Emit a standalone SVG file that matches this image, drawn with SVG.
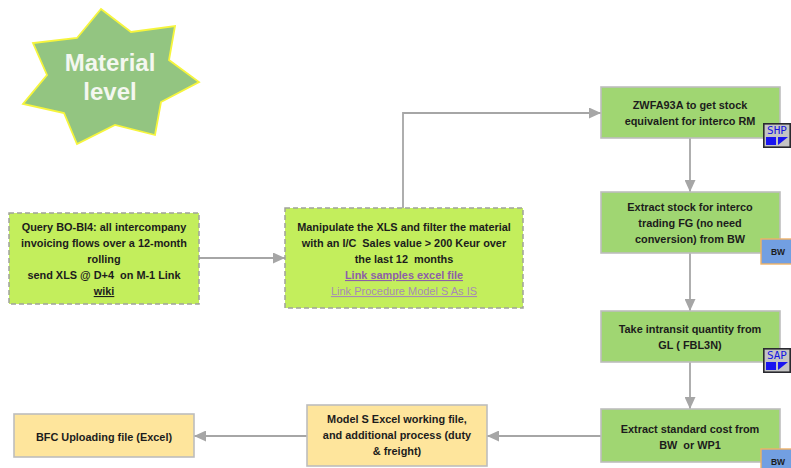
<svg xmlns="http://www.w3.org/2000/svg" width="791" height="468" viewBox="0 0 791 468">
<style>
text{font-family:"Liberation Sans",Arial,sans-serif;font-size:10.9px;font-weight:700;fill:#1c1c1c;text-anchor:middle;white-space:pre}
.dash{fill:#c3ee5c;stroke:#a0a39a;stroke-width:1.5;stroke-dasharray:5 3}
.green{fill:#a0d672;stroke:#bdbdbd;stroke-width:1.6}
.yellow{fill:#fee59c;stroke:#bdbdbd;stroke-width:1.6}
.bw{fill:#729fe2;stroke:#f0b266;stroke-width:1.4}
.bwt{font-size:8.5px}
.sap{fill:#c4c4c4;stroke:#2a2a30;stroke-width:1.6}
.sapt{font-family:"DejaVu Sans Mono","Liberation Mono",monospace;font-size:11px;font-weight:400;fill:#1414e0}
.blue{fill:#1a14f0}
.link{fill:#8d5fa8;text-decoration:underline}
.link2{fill:#a78bb5;font-weight:400;font-size:11px;text-decoration:underline}
.conn{fill:none;stroke:#a6a6a6;stroke-width:1.8}
</style>
<defs>
<marker id="arrow" markerUnits="userSpaceOnUse" markerWidth="12" markerHeight="11" refX="12" refY="5.5" orient="auto"><path d="M0 0L12 5.5L0 11z" fill="#a6a6a6"/></marker>
<symbol id="sapbg" overflow="visible"><rect class="sap" x="0.8" y="0.8" width="26.4" height="23.4"/><rect class="blue" x="3" y="14" width="10" height="8"/><path class="blue" d="M15 14H25L15 22z"/></symbol>
</defs>
<g id="connectors">
<path class="conn" marker-end="url(#arrow)" d="M199 258H285"/>
<path class="conn" marker-end="url(#arrow)" d="M403 208V113H601"/>
<path class="conn" marker-end="url(#arrow)" d="M690 138V192"/>
<path class="conn" marker-end="url(#arrow)" d="M690 253V311"/>
<path class="conn" marker-end="url(#arrow)" d="M690 362V409"/>
<path class="conn" marker-end="url(#arrow)" d="M601 436H487"/>
<path class="conn" marker-end="url(#arrow)" d="M307 436H194"/>
</g>
<g id="star">
<path d="M101 9L131 32L175 26L169 60L199 82L161 102L155 135L115 125L77 144L64 113L23 104L47 75L33 43L77 38z" fill="#93c581" stroke="#f6f53c" stroke-width="1.8"/>
<text x="110" y="71" style="font-size:24px;fill:#f4f7f0">Material</text>
<text x="110" y="100" style="font-size:24px;fill:#f4f7f0">level</text>
</g>
<g id="query">
<rect class="dash" x="9" y="213" width="190" height="91"/>
<text x="104" y="231">Query BO-BI4: all intercompany</text>
<text x="104" y="247">invoicing flows over a 12-month</text>
<text x="104" y="263">rolling</text>
<text x="104" y="279">send XLS @ D+4  on M-1 Link</text>
<text x="104" y="295" text-decoration="underline">wiki</text>
</g>
<g id="manipulate">
<rect class="dash" x="285" y="208" width="238" height="100"/>
<text x="404" y="231">Manipulate the XLS and filter the material</text>
<text x="404" y="247">with an I/C  Sales value &gt; 200 Keur over</text>
<text x="404" y="263">the last 12  months</text>
<text class="link" x="404" y="279">Link samples excel file</text>
<text class="link2" x="404" y="295">Link Procedure Model S As IS</text>
</g>
<g id="zwfa">
<rect class="green" x="601" y="87" width="179" height="51"/>
<text x="690" y="109">ZWFA93A to get stock</text>
<text x="690" y="125">equivalent for interco RM</text>
<use href="#sapbg" x="763" y="123"/>
<text class="sapt" x="777" y="134">SHP</text>
</g>
<g id="extract-stock">
<rect class="green" x="601" y="192" width="179" height="61"/>
<text x="690" y="211">Extract stock for interco</text>
<text x="690" y="227">trading FG (no need</text>
<text x="690" y="243">conversion) from BW</text>
<rect class="bw" x="761" y="239" width="31" height="25"/>
<text class="bwt" x="778" y="255">BW</text>
</g>
<g id="intransit">
<rect class="green" x="601" y="311" width="179" height="51"/>
<text x="690" y="333">Take intransit quantity from</text>
<text x="690" y="349">GL ( FBL3N)</text>
<use href="#sapbg" x="763" y="348"/>
<text class="sapt" x="777" y="359">SAP</text>
</g>
<g id="standard-cost">
<rect class="green" x="601" y="409" width="179" height="53"/>
<text x="690" y="433">Extract standard cost from</text>
<text x="690" y="449">BW  or WP1</text>
<rect class="bw" x="761" y="449" width="31" height="25"/>
<text class="bwt" x="778" y="465">BW</text>
</g>
<g id="model-s">
<rect class="yellow" x="307" y="405" width="180" height="61"/>
<text x="397" y="423">Model S Excel working file,</text>
<text x="397" y="439">and additional process (duty</text>
<text x="397" y="455">&amp; freight)</text>
</g>
<g id="bfc">
<rect class="yellow" x="14" y="414" width="180" height="43"/>
<text x="104" y="441">BFC Uploading file (Excel)</text>
</g>
</svg>
